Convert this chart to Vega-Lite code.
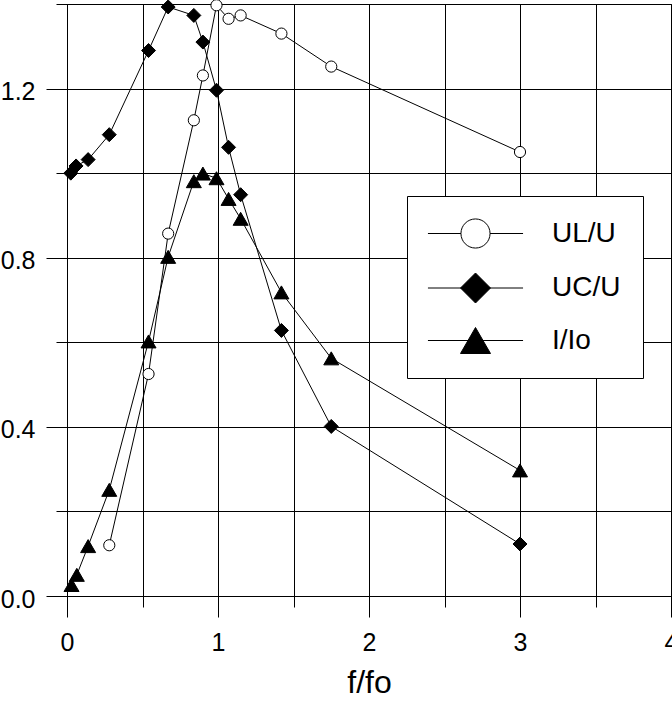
{
  "$schema": "https://vega.github.io/schema/vega-lite/v6.json",
  "width": 604,
  "height": 592,
  "autosize": {"type": "none"},
  "padding": {"left": 67, "top": 4, "right": 1, "bottom": 106},
  "background": "white",
  "config": {"view": {"stroke": "black", "strokeWidth": 1}, "font": "Liberation Sans"},
  "data": {"values": [
    {"series": "UL/U", "x": 0.28, "y": 0.12},
    {"series": "UL/U", "x": 0.54, "y": 0.525},
    {"series": "UL/U", "x": 0.67, "y": 0.857},
    {"series": "UL/U", "x": 0.84, "y": 1.125},
    {"series": "UL/U", "x": 0.9, "y": 1.231},
    {"series": "UL/U", "x": 0.99, "y": 1.397},
    {"series": "UL/U", "x": 1.07, "y": 1.365},
    {"series": "UL/U", "x": 1.15, "y": 1.373},
    {"series": "UL/U", "x": 1.42, "y": 1.33},
    {"series": "UL/U", "x": 1.75, "y": 1.252},
    {"series": "UL/U", "x": 3.0, "y": 1.05},
    {"series": "UC/U", "x": 0.025, "y": 1.0},
    {"series": "UC/U", "x": 0.06, "y": 1.017},
    {"series": "UC/U", "x": 0.14, "y": 1.032},
    {"series": "UC/U", "x": 0.28, "y": 1.091},
    {"series": "UC/U", "x": 0.54, "y": 1.29},
    {"series": "UC/U", "x": 0.67, "y": 1.393},
    {"series": "UC/U", "x": 0.84, "y": 1.373},
    {"series": "UC/U", "x": 0.9, "y": 1.31},
    {"series": "UC/U", "x": 0.99, "y": 1.196},
    {"series": "UC/U", "x": 1.07, "y": 1.061},
    {"series": "UC/U", "x": 1.15, "y": 0.949},
    {"series": "UC/U", "x": 1.42, "y": 0.628},
    {"series": "UC/U", "x": 1.75, "y": 0.401},
    {"series": "UC/U", "x": 3.0, "y": 0.123},
    {"series": "I/Io", "x": 0.03, "y": 0.026},
    {"series": "I/Io", "x": 0.065, "y": 0.05},
    {"series": "I/Io", "x": 0.14, "y": 0.118},
    {"series": "I/Io", "x": 0.28, "y": 0.251},
    {"series": "I/Io", "x": 0.54, "y": 0.602},
    {"series": "I/Io", "x": 0.67, "y": 0.802},
    {"series": "I/Io", "x": 0.84, "y": 0.981},
    {"series": "I/Io", "x": 0.9, "y": 0.999},
    {"series": "I/Io", "x": 0.99, "y": 0.988},
    {"series": "I/Io", "x": 1.07, "y": 0.939},
    {"series": "I/Io", "x": 1.15, "y": 0.892},
    {"series": "I/Io", "x": 1.42, "y": 0.718},
    {"series": "I/Io", "x": 1.75, "y": 0.562},
    {"series": "I/Io", "x": 3.0, "y": 0.297}
  ]},
  "encoding": {
    "x": {
      "field": "x", "type": "quantitative",
      "scale": {"domain": [0, 4], "nice": false, "zero": false},
      "axis": {
        "values": [0, 0.5, 1, 1.5, 2, 2.5, 3, 3.5, 4],
        "grid": true, "gridColor": "black", "gridOpacity": 1, "gridWidth": 1,
        "domainColor": "black", "domainWidth": 1,
        "tickColor": "black", "tickWidth": 1,
        "tickSize": {"condition": {"test": "datum.value % 1 === 0", "value": 21}, "value": 11},
        "labelExpr": "datum.value % 1 === 0 ? format(datum.value, 'd') : ''",
        "labelFont": "Liberation Sans", "labelFontSize": 25, "labelColor": "black",
        "labelPadding": 13, "labelFlush": false, "labelOverlap": false, "labelBound": false,
        "title": "f/fo", "titleFont": "Liberation Sans", "titleFontSize": 32, "titleFontWeight": "normal",
        "titleColor": "black", "titlePadding": 12
      }
    },
    "y": {
      "field": "y", "type": "quantitative",
      "scale": {"domain": [0, 1.4], "nice": false, "zero": false},
      "axis": {
        "values": [0, 0.2, 0.4, 0.6, 0.8, 1.0, 1.2, 1.4],
        "grid": true, "gridColor": "black", "gridOpacity": 1, "gridWidth": 1,
        "domainColor": "black", "domainWidth": 1,
        "tickColor": "black", "tickWidth": 1,
        "tickSize": {"condition": {"test": "round(datum.value * 10) % 4 === 0", "value": 21}, "value": 11},
        "labelExpr": "round(datum.value * 10) % 4 === 0 ? format(datum.value, '.1f') : ''",
        "labelFont": "Liberation Sans", "labelFontSize": 25, "labelColor": "black",
        "labelPadding": 11, "labelFlush": false, "labelOverlap": false, "labelBound": false,
        "labelBaseline": "middle", "labelOffset": 3,
        "title": null
      }
    }
  },
  "layer": [
    {
      "mark": {"type": "line", "color": "black", "strokeWidth": 1},
      "encoding": {"detail": {"field": "series", "type": "nominal"}}
    },
    {
      "transform": [{"filter": "datum.series === 'UL/U'"}],
      "mark": {"type": "point", "shape": "circle", "filled": true, "fill": "white", "stroke": "black", "strokeWidth": 1, "opacity": 1, "size": 125}
    },
    {
      "transform": [{"filter": "datum.series === 'UC/U'"}],
      "mark": {"type": "point", "shape": "diamond", "filled": true, "fill": "black", "stroke": "black", "strokeWidth": 1, "opacity": 1, "size": 196}
    },
    {
      "transform": [{"filter": "datum.series === 'I/Io'"}],
      "mark": {"type": "point", "shape": "triangle-up", "filled": true, "fill": "black", "stroke": "black", "strokeWidth": 1, "opacity": 1, "size": 225}
    },
    {
      "mark": {"type": "point", "filled": true, "opacity": 0},
      "encoding": {
        "shape": {
          "field": "series", "type": "nominal",
          "scale": {
            "domain": ["UL/U", "UC/U", "I/Io"],
            "range": [
              "M-3.17,0H-0.97M0.97,0H3.17M-0.97,0A0.97,0.97,0,1,1,0.97,0A0.97,0.97,0,1,1,-0.97,0Z",
              "M-3.17,0H3.17M-1,0L0,-1L1,0L0,1Z",
              "M-3.17,0H3.17M0,-0.866L-1,0.866L1,0.866Z"
            ]
          },
          "legend": {
            "orient": "none", "legendX": 340, "legendY": 192,
            "title": null, "padding": 22,
            "symbolOffset": 31, "labelOffset": 61, "rowPadding": 19.5,
            "symbolSize": 900, "symbolStrokeWidth": 1, "symbolStrokeColor": "black",
            "labelFont": "Liberation Sans", "labelFontSize": 28, "labelColor": "black", "labelLimit": 300,
            "strokeColor": "black", "fillColor": "white", "cornerRadius": 0,
            "encoding": {
              "symbols": {
                "fill": {"condition": {"test": "datum.value === 'UL/U'", "value": "white"}, "value": "black"},
                "stroke": {"value": "black"},
                "strokeWidth": {"value": 1},
                "size": {"value": 900},
                "opacity": {"value": 1}
              }
            }
          }
        }
      }
    }
  ]
}
